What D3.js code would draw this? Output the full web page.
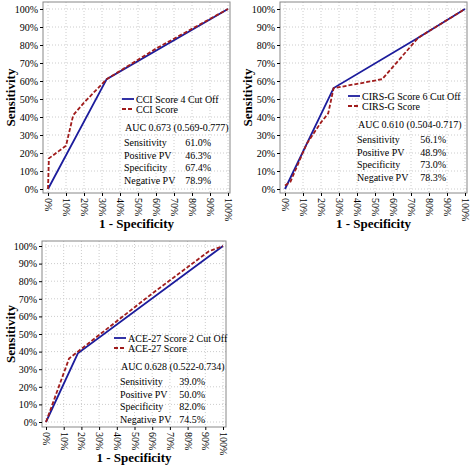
<!DOCTYPE html><html><head><script src="https://d3js.org/d3.v7.min.js"></script>
<style>body{margin:0;background:#fff}</style></head><body><svg id="c" width="474" height="468"></svg>
<script>
const ticks=[0,10,20,30,40,50,60,70,80,90,100];
const cciCut=[[0,0],[32.6,61],[100,100]];
const cciScore=[[0,0],[0.5,17],[10,24],[14,41],[20,48],[32.6,61],[60,78],[100,100]];
const cirsCut=[[0,0],[27,56.1],[74,84],[100,100]];
const cirsScore=[[0,2],[3,4],[12,25],[20,37],[24,42],[27,56],[54,61],[74,84],[100,100]];
const aceCut=[[0,0],[18,39],[100,100]];
const aceScore=[[0,0],[13,36],[18,40],[60,73],[92,97],[100,100]];
const panels=[
 {ox:0,oy:0,x0:48,x1:228,y0:189,y1:9,fl:43,fr:230,ft:2,fb:193,cut:cciCut,score:cciScore,leg:["CCI Score 4 Cut Off","CCI Score"],auc:"AUC 0.673 (0.569-0.777)",stats:[["Sensitivity","61.0%"],["Positive PV","46.3%"],["Specificity","67.4%"],["Negative PV","78.9%"]],lx:122,ly:99,tx:124,vx:211},
 {ox:237,oy:0,x0:48,x1:228,y0:189,y1:9,fl:43,fr:230,ft:2,fb:193,cut:cirsCut,score:cirsScore,leg:["CIRS-G Score 6 Cut Off","CIRS-G Score"],auc:"AUC 0.610 (0.504-0.717)",stats:[["Sensitivity","56.1%"],["Positive PV","48.9%"],["Specificity","73.0%"],["Negative PV","78.3%"]],lx:111,ly:96,tx:120,vx:209},
 {ox:0,oy:234,x0:46,x1:223,y0:188,y1:12,fl:42,fr:226,ft:7,fb:193,cut:aceCut,score:aceScore,leg:["ACE-27 Score 2 Cut Off","ACE-27 Score"],auc:"AUC 0.628 (0.522-0.734)",stats:[["Sensitivity","39.0%"],["Positive PV","50.0%"],["Specificity","82.0%"],["Negative PV","74.5%"]],lx:114,ly:104,tx:120,vx:205}
];
const svg=d3.select("#c");
const F="'Liberation Serif', 'Times New Roman', serif";
panels.forEach(p=>{
 const g=svg.append("g").attr("transform",`translate(${p.ox},${p.oy})`);
 const x=d3.scaleLinear().domain([0,100]).range([p.x0,p.x1]);
 const y=d3.scaleLinear().domain([0,100]).range([p.y0,p.y1]);
 ticks.forEach(t=>{
  g.append("line").attr("x1",x(t)).attr("x2",x(t)).attr("y1",p.ft).attr("y2",p.fb).attr("stroke","#ccc").attr("stroke-dasharray","1,2");
  g.append("line").attr("y1",y(t)).attr("y2",y(t)).attr("x1",p.fl).attr("x2",p.fr).attr("stroke","#ccc").attr("stroke-dasharray","1,2");
 });
 g.append("rect").attr("x",p.fl).attr("y",p.ft).attr("width",p.fr-p.fl).attr("height",p.fb-p.ft).attr("fill","none").attr("stroke","#888");
 const ya=g.append("g").attr("transform",`translate(${p.fl},0)`).call(d3.axisLeft(y).tickValues(ticks).tickFormat(d=>d+"%").tickSize(3).tickPadding(2));
 ya.select(".domain").remove();
 ya.selectAll("text").attr("font-family",F).attr("font-size",10).attr("fill","#000");
 const xa=g.append("g").attr("transform",`translate(0,${p.fb})`).call(d3.axisBottom(x).tickValues(ticks).tickFormat(d=>d+"%").tickSize(3));
 xa.select(".domain").remove();
 xa.selectAll("text").attr("font-family",F).attr("font-size",10).attr("fill","#000").attr("transform","rotate(90)").attr("text-anchor","start").attr("dy","0.35em").attr("x",5).attr("y",0);
 const ln=d3.line().x(d=>x(d[0])).y(d=>y(d[1]));
 g.append("path").attr("d",ln(p.cut)).attr("fill","none").attr("stroke","#1c1c9c").attr("stroke-width",1.8);
 g.append("path").attr("d",ln(p.score)).attr("fill","none").attr("stroke","#a01c1c").attr("stroke-width",1.8).attr("stroke-dasharray","4,2");
 g.append("line").attr("x1",p.lx).attr("x2",p.lx+12).attr("y1",p.ly).attr("y2",p.ly).attr("stroke","#1c1c9c").attr("stroke-width",1.8);
 g.append("line").attr("x1",p.lx).attr("x2",p.lx+12).attr("y1",p.ly+10).attr("y2",p.ly+10).attr("stroke","#a01c1c").attr("stroke-width",1.8).attr("stroke-dasharray","4,2");
 p.leg.forEach((t,i)=>g.append("text").attr("x",p.lx+14).attr("y",p.ly+i*10+3.5).text(t).attr("font-family",F).attr("font-size",10));
 g.append("text").attr("x",p.tx+1).attr("y",p.ly+32).text(p.auc).attr("font-family",F).attr("font-size",10);
 p.stats.forEach((s,i)=>{
  g.append("text").attr("x",p.tx).attr("y",p.ly+47+i*12.6).text(s[0]).attr("font-family",F).attr("font-size",10);
  g.append("text").attr("x",p.vx).attr("y",p.ly+47+i*12.6).attr("text-anchor","end").text(s[1]).attr("font-family",F).attr("font-size",10);
 });
 g.append("text").attr("x",(p.fl+p.fr)/2).attr("y",p.fb+35).attr("text-anchor","middle").text("1 - Specificity").attr("font-family",F).attr("font-weight","bold").attr("font-size",13);
 g.append("text").attr("transform",`translate(15,${(p.ft+p.fb)/2}) rotate(-90)`).attr("text-anchor","middle").text("Sensitivity").attr("font-family",F).attr("font-weight","bold").attr("font-size",13);
});
</script></body></html>
